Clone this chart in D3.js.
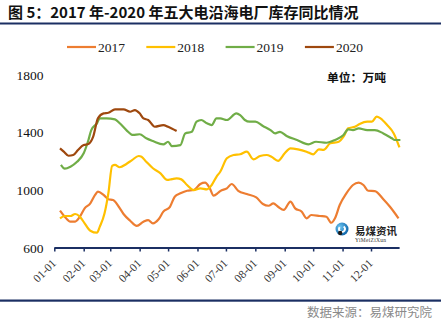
<!DOCTYPE html>
<html>
<head>
<meta charset="utf-8">
<script src="https://cdn.jsdelivr.net/npm/d3@7"></script>
<style>
    body { margin: 0; background: #fff; }
    svg { display: block; }
</style>
</head>
<body>
<svg id="chart_svg"></svg>
<script>
/*
 * Inventory of the five big coastal power plants, by day of year.
 */
var years = ["2017", "2018", "2019", "2020"];
var colors = ["#ED7D31", "#FFC000", "#70AD47", "#9E480E"];

var month_ticks = ["01-01", "02-01", "03-01", "04-01", "05-01", "06-01",
                   "07-01", "08-01", "09-01", "10-01", "11-01", "12-01"];
var y_ticks = [600, 1000, 1400, 1800];

var days2017 = [6, 11, 17, 22, 27, 32, 38, 43, 46, 52, 57, 62, 68, 73, 80, 87, 94, 99, 104, 110,
                115, 122, 127, 133, 140, 147, 154, 159, 164, 168, 173, 175, 182, 187, 194, 203, 213, 220, 226, 231,
                236, 242, 249, 254, 261, 266, 271, 280, 287, 292, 296, 301, 308, 315, 321, 326, 331, 338, 347, 354, 363];
var stock2017 = [859, 817, 783, 783, 817, 875, 910, 968, 991, 968, 938, 933, 886, 836, 789, 753, 782, 794, 771, 799,
                 852, 886, 956, 979, 997, 1002, 1044, 1053, 1014, 963, 984, 995, 1014, 1044, 997, 974, 951, 905, 893, 910,
                 886, 864, 921, 875, 852, 806, 829, 822, 817, 775, 806, 898, 979, 1037, 1053, 1037, 997, 995, 938, 886, 806];

var days2018 = [6, 11, 17, 22, 27, 32, 38, 45, 48, 53, 57, 61, 64, 69, 76, 82, 89, 92, 97, 104,
                112, 119, 124, 129, 134, 140, 147, 154, 161, 166, 171, 175, 182, 189, 196, 203, 210, 217, 224, 229,
                236, 243, 249, 257, 266, 273, 279, 284, 291, 300, 305, 310, 317, 322, 330, 335, 340, 344, 351, 358, 364];
var stock2018 = [806, 822, 822, 836, 817, 771, 720, 706, 748, 841, 979, 1169, 1176, 1160, 1183, 1210, 1238, 1233, 1198, 1153,
                 1118, 1072, 1078, 1083, 1076, 1037, 1002, 1014, 1007, 1037, 1094, 1129, 1222, 1245, 1250, 1268, 1215, 1238, 1245, 1233,
                 1205, 1257, 1291, 1284, 1268, 1250, 1284, 1280, 1326, 1337, 1372, 1430, 1441, 1460, 1476, 1476, 1511, 1499, 1453, 1395, 1298];

var days2019 = [7, 11, 17, 24, 31, 36, 39, 45, 48, 55, 64, 69, 76, 83, 90, 97, 104, 115, 120, 124,
                133, 138, 145, 150, 155, 161, 166, 171, 175, 182, 192, 196, 201, 206, 212, 220, 228, 233, 238, 245,
                256, 268, 276, 287, 296, 305, 310, 315, 321, 330, 338, 347, 356, 359, 365];
var stock2019 = [1176, 1150, 1164, 1198, 1257, 1349, 1418, 1465, 1499, 1499, 1492, 1465, 1418, 1384, 1389, 1361, 1342, 1319, 1337, 1307,
                 1314, 1395, 1406, 1476, 1488, 1465, 1453, 1499, 1499, 1488, 1534, 1522, 1488, 1476, 1476, 1446, 1418, 1395, 1406, 1377,
                 1349, 1319, 1337, 1330, 1349, 1384, 1423, 1418, 1430, 1418, 1418, 1395, 1361, 1349, 1349];

var days2020 = [6, 10, 15, 20, 25, 31, 36, 41, 46, 52, 57, 64, 73, 80, 85, 90, 94, 99, 106, 115, 120, 129];
var stock2020 = [1291, 1268, 1240, 1245, 1280, 1314, 1321, 1372, 1499, 1534, 1538, 1562, 1562, 1545, 1557, 1534, 1499, 1488, 1441, 1453, 1441, 1411];

var all_days = [days2017, days2018, days2019, days2020];
var all_stock = [stock2017, stock2018, stock2019, stock2020];

var width = 441;
var height = 327;
var navy = "#1B2F63";
var serif = "'Liberation Serif', 'DejaVu Serif', serif";
var cjk = "'Noto Sans CJK SC', sans-serif";

var svg = d3.select("#chart_svg")
    .attr("width", width)
    .attr("height", height);

// title and rules
svg.append("text")
    .attr("x", 8)
    .attr("y", 18)
    .attr("font-family", cjk)
    .attr("font-weight", "bold")
    .attr("font-size", "15px")
    .attr("fill", "#111")
    .text("图 5：2017 年-2020 年五大电沿海电厂库存同比情况");

svg.append("rect")
    .attr("x", 0).attr("y", 22.5)
    .attr("width", width).attr("height", 2)
    .attr("fill", navy);

svg.append("rect")
    .attr("x", 0).attr("y", 299.5)
    .attr("width", width).attr("height", 2.2)
    .attr("fill", navy);

svg.append("text")
    .attr("x", 432)
    .attr("y", 317)
    .attr("text-anchor", "end")
    .attr("font-family", cjk)
    .attr("font-size", "12.5px")
    .attr("fill", "#8a8a8a")
    .text("数据来源：易煤研究院");

// scales
var x = d3.scaleTime()
    .domain([new Date(2019, 0, 1), new Date(2020, 0, 1)])
    .range([54.3, 400.4]);
var y = d3.scaleLinear()
    .domain([600, 1800])
    .range([248, 75]);

function dayToDate(d) {
    return new Date(2019, 0, 1 + d);
}

// y labels
svg.selectAll()
    .data(y_ticks)
    .enter()
    .append("text")
    .attr("x", 43.5)
    .attr("y", function(d) { return y(d) + 4.5; })
    .attr("text-anchor", "end")
    .attr("font-family", serif)
    .attr("font-size", "13.5px")
    .attr("fill", "#111")
    .text(function(d) { return d; });

// x axis
var tick_dates = month_ticks.map(function(t) {
    return new Date(2019, +t.slice(0, 2) - 1, 1);
});
var x_axis = d3.axisBottom(x)
    .tickValues(tick_dates)
    .tickSize(3.5)
    .tickFormat(function(d, i) { return month_ticks[i]; });

var gx = svg.append("g")
    .attr("transform", "translate(0,248)")
    .call(x_axis);
gx.select(".domain")
    .attr("d", "M54.3,0H399.6")
    .attr("stroke", navy)
    .attr("stroke-width", 2.2);
gx.selectAll(".tick line")
    .attr("stroke", navy)
    .attr("stroke-width", 1.5);
gx.selectAll(".tick text")
    .attr("font-family", serif)
    .attr("font-size", "11.5px")
    .attr("fill", "#333")
    .attr("text-anchor", "end")
    .attr("dy", null)
    .attr("y", 0)
    .attr("transform", "translate(2,16) rotate(-45)");

// watermark logo
var logo = svg.append("g").attr("transform", "translate(342,229)");
var grad = svg.append("defs").append("radialGradient")
    .attr("id", "logo_grad")
    .attr("cx", "35%").attr("cy", "35%").attr("r", "70%");
grad.append("stop").attr("offset", "0%").attr("stop-color", "#6EC6F2");
grad.append("stop").attr("offset", "100%").attr("stop-color", "#0B63A8");
logo.append("circle")
    .attr("r", 6.5)
    .attr("fill", "url(#logo_grad)");
logo.append("path")
    .attr("d", d3.arc()({innerRadius: 2, outerRadius: 4, startAngle: 0.6, endAngle: 5.4}))
    .attr("fill", "#fff");
logo.append("circle")
    .attr("cx", -1.8).attr("cy", 4).attr("r", 2.2)
    .attr("fill", "#1a1a1a");
svg.append("text")
    .attr("x", 355).attr("y", 234.5)
    .attr("font-family", cjk)
    .attr("font-weight", "bold")
    .attr("font-size", "10.5px")
    .attr("fill", "#222")
    .text("易煤资讯");
svg.append("text")
    .attr("x", 355).attr("y", 242)
    .attr("font-family", serif)
    .attr("font-size", "5.5px")
    .attr("letter-spacing", "0.3px")
    .attr("fill", "#333")
    .text("YiMeiZiXun");

// series lines
var line = d3.line()
    .x(function(d) { return x(dayToDate(d[0])); })
    .y(function(d) { return y(d[1]); })
    .curve(d3.curveMonotoneX);

years.forEach(function(year, i) {
    var points = all_days[i].map(function(d, j) { return [d, all_stock[i][j]]; });
    svg.append("path")
        .datum(points)
        .attr("d", line)
        .attr("fill", "none")
        .attr("stroke", colors[i])
        .attr("stroke-width", 2.2)
        .attr("stroke-linejoin", "round");
});

// legend
var legend = svg.selectAll()
    .data(years)
    .enter()
    .append("g")
    .attr("transform", function(d, i) { return "translate(" + (67 + i * 79.3) + ",47)"; });
legend.append("line")
    .attr("x1", 0).attr("x2", 29)
    .attr("stroke", function(d, i) { return colors[i]; })
    .attr("stroke-width", 2.2);
legend.append("text")
    .attr("x", 31)
    .attr("y", 4.5)
    .attr("font-family", serif)
    .attr("font-size", "13.5px")
    .attr("fill", "#222")
    .text(function(d) { return d; });

// unit
svg.append("text")
    .attr("x", 327)
    .attr("y", 82)
    .attr("font-family", cjk)
    .attr("font-weight", "bold")
    .attr("font-size", "11.8px")
    .attr("fill", "#111")
    .text("单位：万吨");
</script>
</body>
</html>
